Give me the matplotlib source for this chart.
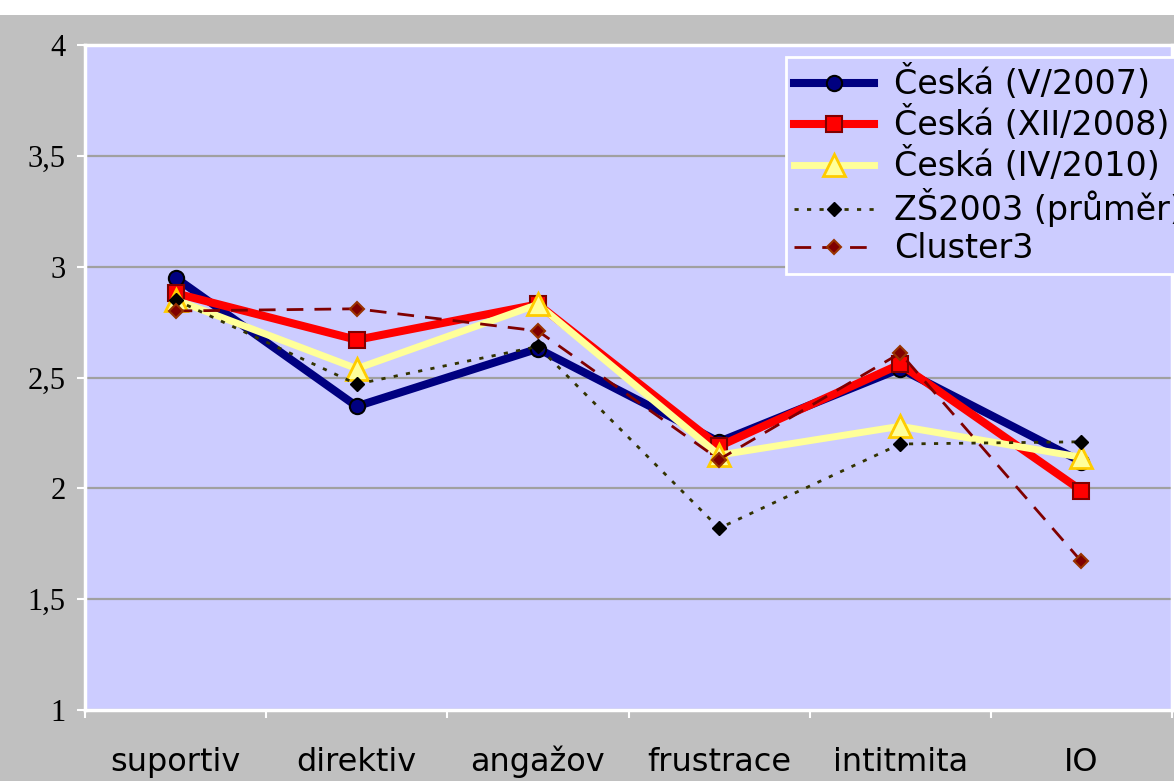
import numpy as np
import matplotlib
matplotlib.use("Agg")
import matplotlib.pyplot as plt
import matplotlib.ticker as ticker
from matplotlib.patches import Rectangle

## Data =======================================================================
categories = ["suportiv", "direktiv", "angažov", "frustrace", "intitmita", "IO"]

ceska_2007 = [2.95, 2.37, 2.63, 2.21, 2.54, 2.12]
ceska_2008 = [2.88, 2.67, 2.83, 2.19, 2.56, 1.99]
ceska_2010 = [2.85, 2.54, 2.83, 2.15, 2.28, 2.14]
zs2003 = [2.85, 2.47, 2.64, 1.82, 2.20, 2.21]
cluster3 = [2.80, 2.81, 2.71, 2.13, 2.61, 1.67]

labels = ["Česká (V/2007)", "Česká (XII/2008)", "Česká (IV/2010)",
          "ZŠ2003 (průměr)", "Cluster3"]

## Figure =====================================================================
fig = plt.figure(figsize=(11.74, 7.81), dpi=100, facecolor="#c0c0c0")
fig.patches.append(Rectangle((0, 1 - 15/781), 1, 15/781, transform=fig.transFigure,
                             facecolor="white", edgecolor="none", zorder=0))

ax = fig.add_axes([85/1174, 1 - 710/781, (1172 - 85)/1174, (710 - 45)/781])
ax.set_facecolor("#ccccff")

x = np.arange(len(categories))

ax.plot(x, ceska_2007, color="#000080", lw=5.8, marker="o", ms=11,
        mfc="#000080", mec="black", mew=1.5, label=labels[0], zorder=3)
ax.plot(x, ceska_2008, color="#ff0000", lw=5.8, marker="s", ms=11,
        mfc="#ff0000", mec="#800000", mew=1.5, label=labels[1], zorder=4)
ax.plot(x, ceska_2010, color="#ffff99", lw=5.0, marker="^", ms=16,
        mfc="#ffff99", mec="#ffcc00", mew=2, label=labels[2], zorder=5)
ax.plot(x, zs2003, color="#333300", lw=2, ls=(0, (1.5, 3)), marker="D", ms=7,
        mfc="black", mec="black", label=labels[3], zorder=6)
ax.plot(x, cluster3, color="#800000", lw=2, ls=(0, (6, 4)), marker="D", ms=7,
        mfc="#800000", mec="#993300", mew=1.5, label=labels[4], zorder=7)

ax.set_ylim(1, 4)
ax.set_xlim(-0.5, len(categories) - 0.5)
ax.yaxis.set_major_locator(ticker.MultipleLocator(0.5))
ax.yaxis.set_major_formatter(ticker.FuncFormatter(
    lambda v, p: f"{v:g}".replace(".", ",")))
ax.grid(axis="y", color="#a0a0a0", lw=1.6, zorder=1)
ax.set_axisbelow(True)

ax.set_xticks(x)
ax.set_xticklabels(categories, fontsize=23, family="DejaVu Sans")
for lab in ax.get_xticklabels():
    lab.set_verticalalignment("baseline")
ax.xaxis.set_minor_locator(ticker.FixedLocator(np.arange(-0.5, len(categories), 1)))
ax.tick_params(axis="x", which="major", length=0, pad=44)
ax.tick_params(axis="x", which="minor", length=6, width=1.5, color="white")
ax.tick_params(axis="y", length=6, width=1.5, color="white", pad=8)
for lab in ax.get_yticklabels():
    lab.set_family("Liberation Serif")
    lab.set_fontsize(22)

for s in ax.spines.values():
    s.set_color("white")
    s.set_linewidth(2.5)

leg = ax.legend(loc="upper left", bbox_to_anchor=(786/1174, 1 - 57/781),
                bbox_transform=fig.transFigure, prop={"family": "DejaVu Sans", "size": 24},
                frameon=True, fancybox=False, facecolor="#ccccff", edgecolor="white",
                framealpha=1, borderpad=0.25, handlelength=2.4, handletextpad=0.6,
                labelspacing=0.15, numpoints=1, borderaxespad=0)
leg.get_frame().set_linewidth(2)
leg.set_zorder(10)

plt.savefig("out.png", dpi=100, facecolor=fig.get_facecolor())
